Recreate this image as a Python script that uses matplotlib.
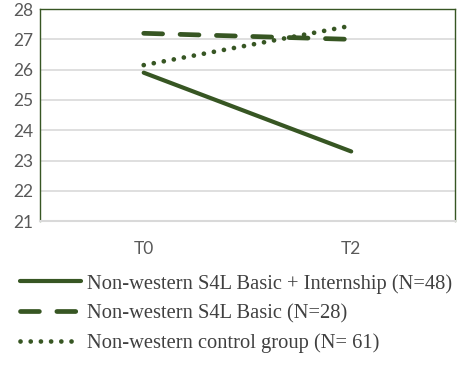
import matplotlib.pyplot as plt

times = ["T0", "T2"]
basic_intern = [25.9, 23.3]
basic = [27.2, 27.0]
control = [26.15, 27.45]
labels = ["Non-western S4L Basic + Internship (N=48)",
          "Non-western S4L Basic (N=28)",
          "Non-western control group (N= 61)"]

green = "#375623"

fig = plt.figure(figsize=(4.57, 3.78), dpi=100)
ax = fig.add_axes([0.0875, 0.415, 0.908, 0.561])

x = range(len(times))
l1, = ax.plot(x, basic_intern, color=green, lw=3.0, solid_capstyle="round")
l2, = ax.plot(x, basic, color=green, lw=3.4, linestyle=(0, (4.0, 3.7)), dash_capstyle="round")
l3, = ax.plot(x, control, color=green, lw=3.4, linestyle=(0, (0.01, 2.15)), dash_capstyle="round")

ax.set_xlim(-0.5, 1.5)
ax.set_ylim(21, 28)
ax.set_xticks(list(x))
ax.set_xticklabels(times)
ax.set_yticks(range(21, 29))
ax.grid(axis="y", color="#d9d9d9", lw=1.2)
ax.set_axisbelow(True)
ax.tick_params(length=0, labelsize=12.5, labelcolor="#595959", pad=5)
for lab in ax.get_xticklabels() + ax.get_yticklabels():
    lab.set_family("Lato")
ax.tick_params(axis="x", pad=14)

for s in ["left", "top", "right"]:
    ax.spines[s].set_color(green)
    ax.spines[s].set_linewidth(1.0)
ax.spines["bottom"].set_color("#d9d9d9")
ax.spines["bottom"].set_linewidth(1.5)

fig.legend([l1, l2, l3], labels, loc="upper left", bbox_to_anchor=(0.026, 0.297),
           frameon=False, prop={"family": "Liberation Serif", "size": 14.8},
           handlelength=2.95, handletextpad=0.3, labelspacing=0.5, borderaxespad=0,
           labelcolor="#404040")

fig.savefig("out.png", dpi=100)
